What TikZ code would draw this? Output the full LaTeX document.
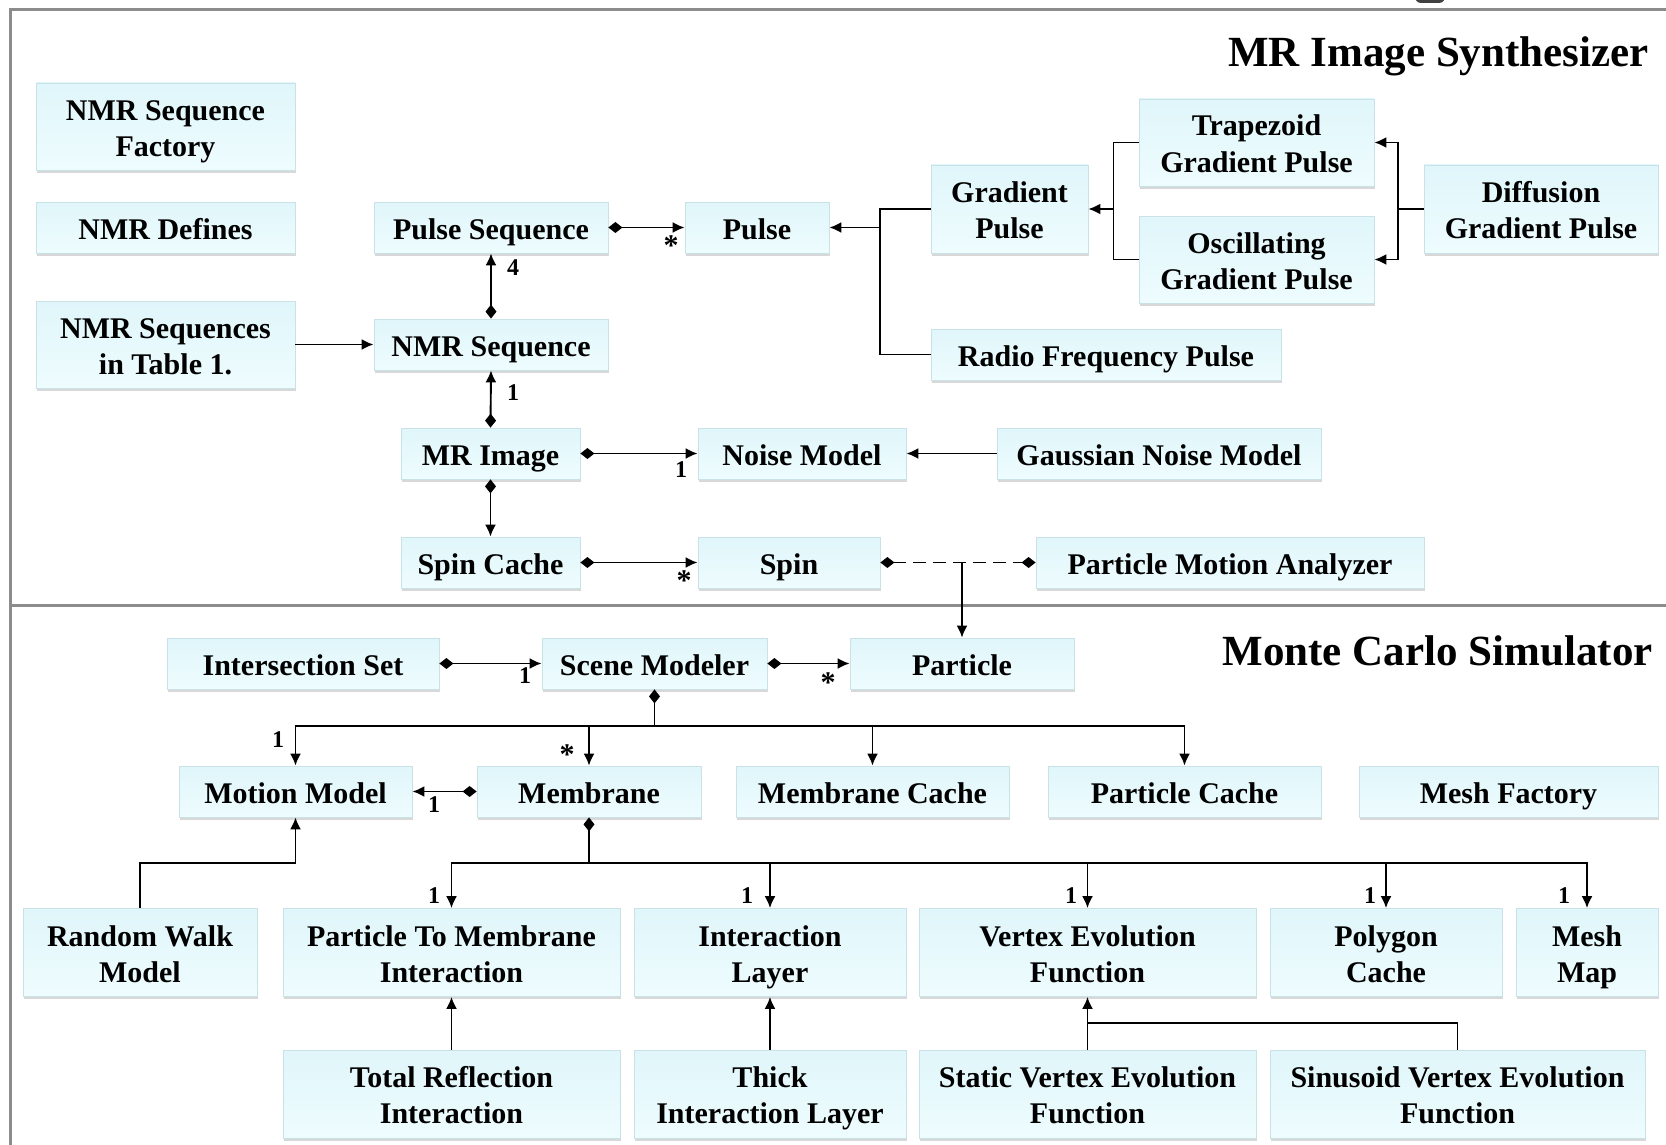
\documentclass[tikz,border=0pt]{standalone}
\usepackage{fontspec}
\setmainfont{Liberation Serif}
\usetikzlibrary{arrows.meta,shadows,calc}
\definecolor{boxtop}{RGB}{224,246,250}
\definecolor{boxbot}{RGB}{238,252,254}
\definecolor{boxline}{RGB}{200,226,232}
\definecolor{framecol}{RGB}{140,140,140}
\newcommand\boxstrut{\rule[-3.5pt]{0pt}{19pt}}
\newcommand\tallstrut{\rule{0pt}{33pt}}
\tikzset{
  cls/.style={draw=boxline, line width=0.4pt, top color=boxtop, bottom color=boxbot,
    drop shadow={shadow xshift=0.6pt, shadow yshift=-1.4pt, fill=black!30},
    align=center, inner sep=0pt, font=\fontsize{15}{18}\selectfont\bfseries,
    execute at begin node=\boxstrut, execute at end node=\boxstrut},
  cltwo/.style={cls, execute at begin node=\tallstrut},
  sz/.style 2 args={minimum width=#1*0.5pt, minimum height=#2*0.5pt},
  con/.style={line width=0.95pt, draw=black},
  comp/.style={con, {Diamond[length=7pt,width=5.5pt]}-{Latex[length=6pt,width=5.5pt]}},
  arr/.style={con, -{Latex[length=6pt,width=5.5pt]}},
  dstart/.style={con, {Diamond[length=7pt,width=5.5pt]}-},
  mult/.style={font=\fontsize{12}{12}\selectfont\bfseries, inner sep=0pt},
  star/.style={font=\fontsize{15}{15}\selectfont\bfseries, inner sep=0pt},
  title/.style={font=\fontsize{21.5}{24}\selectfont\bfseries, inner sep=0pt}
}
\begin{document}
\begin{tikzpicture}[x=0.5pt,y=-0.5pt]
\useasboundingbox (0,0) rectangle (1666,1145);
\clip (0,0) rectangle (1666,1145);
\fill[white] (0,0) rectangle (1666,1145);
% frame
\draw[framecol, line width=1.5pt] (10,1200) -- (10,10) -- (1700,10);
\draw[framecol, line width=1.5pt] (10,605) -- (1700,605);
\fill[black!75, rounded corners=3pt] (1415,-10) rectangle (1445,3);
% titles
\node[title, anchor=base east] (t1) at (1649,67) {MR Image Synthesizer};
\node[title, anchor=base east] (t2) at (1653,665) {Monte Carlo Simulator};
% upper boxes
\node[cltwo, sz={259}{87}] (fact) at (165.5,126.5) {NMR Sequence\\Factory};
\node[cls, sz={259}{51}] (def) at (165.5,227.5) {NMR Defines};
\node[cltwo, sz={259}{87}] (tab) at (165.5,344.5) {NMR Sequences\\in Table 1.};
\node[cls, sz={234}{51}] (ps) at (491,227.5) {Pulse Sequence};
\node[cls, sz={234}{51}] (nmrs) at (491,344.5) {NMR Sequence};
\node[cls, sz={179}{51}] (mri) at (490.5,453.5) {MR Image};
\node[cls, sz={179}{51}] (sc) at (490.5,562.5) {Spin Cache};
\node[cls, sz={144}{51}] (pulse) at (757,227.5) {Pulse};
\node[cltwo, sz={157}{88}] (gp) at (1009.5,209) {Gradient\\Pulse};
\node[cltwo, sz={235}{87}] (tgp) at (1256.5,142.5) {Trapezoid\\Gradient Pulse};
\node[cltwo, sz={235}{87}] (ogp) at (1256.5,259.5) {Oscillating\\Gradient Pulse};
\node[cltwo, sz={234}{88}] (dgp) at (1541,209) {Diffusion\\Gradient Pulse};
\node[cls, sz={350}{51}] (rfp) at (1106,354.5) {Radio Frequency Pulse};
\node[cls, sz={208}{51}] (nm) at (802,453.5) {Noise Model};
\node[cls, sz={324}{51}] (gnm) at (1159,453.5) {Gaussian Noise Model};
\node[cls, sz={182}{51}] (spin) at (789,562.5) {Spin};
\node[cls, sz={388}{51}] (pma) at (1230,562.5) {Particle Motion Analyzer};
% lower boxes
\node[cls, sz={272}{51}] (is) at (303,663.5) {Intersection Set};
\node[cls, sz={225}{51}] (sm) at (654.5,663.5) {Scene Modeler};
\node[cls, sz={224}{51}] (part) at (962,663.5) {Particle};
\node[cls, sz={233}{51}] (mm) at (295.5,791.5) {Motion Model};
\node[cls, sz={224}{51}] (mem) at (589,791.5) {Membrane};
\node[cls, sz={273}{51}] (mc) at (872.5,791.5) {Membrane Cache};
\node[cls, sz={273}{51}] (pc) at (1184.5,791.5) {Particle Cache};
\node[cls, sz={299}{51}] (mf) at (1508.5,791.5) {Mesh Factory};
\node[cltwo, sz={234}{88}] (rwm) at (140,952.5) {Random Walk\\Model};
\node[cltwo, sz={337}{88}] (ptmi) at (451.5,952.5) {Particle To Membrane\\Interaction};
\node[cltwo, sz={272}{88}] (il) at (770,952.5) {Interaction\\Layer};
\node[cltwo, sz={337}{88}] (vef) at (1087.5,952.5) {Vertex Evolution\\Function};
\node[cltwo, sz={232}{88}] (polyc) at (1386,952.5) {Polygon\\Cache};
\node[cltwo, sz={142}{88}] (mmap) at (1587,952.5) {Mesh\\Map};
\node[cltwo, sz={337}{88}] (tri) at (451.5,1094) {Total Reflection\\Interaction};
\node[cltwo, sz={272}{88}] (til) at (770,1094) {Thick\\Interaction Layer};
\node[cltwo, sz={337}{88}] (svef) at (1087.5,1094) {Static Vertex Evolution\\Function};
\node[cltwo, sz={375}{88}] (sivef) at (1457.5,1094) {Sinusoid Vertex Evolution\\Function};
% junction coordinates
\coordinate (pj) at (880,227.5);
\coordinate (gj) at (1113.5,209);
\coordinate (dj) at (1398,209);
\coordinate (sj) at (962,562.5);
\coordinate (sb) at (654.5,726);
\coordinate (mb) at (589,863);
\coordinate (vj) at (1087.5,1023);
% upper connectors
\draw[comp] (ps.east) -- (pulse.west);
\draw[comp] (nmrs.north) -- (ps.south);
\draw[arr] (tab.east) -- (nmrs.west);
\draw[comp] (mri.north) -- (nmrs.south);
\draw[comp] (mri.east) -- (nm.west);
\draw[arr] (gnm.west) -- (nm.east);
\draw[comp] (mri.south) -- (sc.north);
\draw[comp] (sc.east) -- (spin.west);
\draw[con, dash pattern=on 6.5pt off 3.5pt, {Diamond[length=7pt,width=5.5pt]}-{Diamond[length=7pt,width=5.5pt]}] (spin.east) -- (pma.west);
\draw[arr] (sj) -- (part.north);
\draw[arr] (gp.west) -| (pj) -- (pulse.east);
\draw[con] (rfp.west) -| (pj);
\draw[arr] (tgp.west) -| (gj) -- (gp.east);
\draw[con] (ogp.west) -| (gj);
\draw[arr] (dgp.west) -- (dj) |- (tgp.east);
\draw[arr] (dj) |- (ogp.east);
% lower connectors
\draw[comp] (is.east) -- (sm.west);
\draw[comp] (sm.east) -- (part.west);
\draw[dstart] (sm.south) -- (sb);
\draw[arr] (sb) -| (mm.north);
\draw[arr] (sb) -| (mem.north);
\draw[arr] (sb) -| (mc.north);
\draw[arr] (sb) -| (pc.north);
\draw[comp] (mem.west) -- (mm.east);
\draw[arr] (rwm.north) -- (rwm.north |- mb) -| (mm.south);
\draw[dstart] (mem.south) -- (mb);
\draw[arr] (mb) -| (ptmi.north);
\draw[arr] (mb) -| (il.north);
\draw[arr] (mb) -| (vef.north);
\draw[arr] (mb) -| (polyc.north);
\draw[arr] (mb) -| (mmap.north);
\draw[arr] (tri.north) -- (ptmi.south);
\draw[arr] (til.north) -- (il.south);
\draw[arr] (svef.north) -- (vef.south);
\draw[con] (sivef.north) |- (vj);
% multiplicities
\node[star] (m1) at (671,246) {*};
\node[mult] (m2) at (513,268) {4};
\node[mult] (m3) at (513,393) {1};
\node[mult] (m4) at (681,470) {1};
\node[star] (m5) at (684,581) {*};
\node[mult] (m6) at (525,676) {1};
\node[star] (m7) at (828,683) {*};
\node[mult] (m8) at (278,740) {1};
\node[star] (m9) at (567,755) {*};
\node[mult] (m10) at (434,805) {1};
\node[mult] (m11) at (434,896) {1};
\node[mult] (m12) at (747,896) {1};
\node[mult] (m13) at (1071,896) {1};
\node[mult] (m14) at (1370,896) {1};
\node[mult] (m15) at (1564,896) {1};
\end{tikzpicture}
\end{document}
